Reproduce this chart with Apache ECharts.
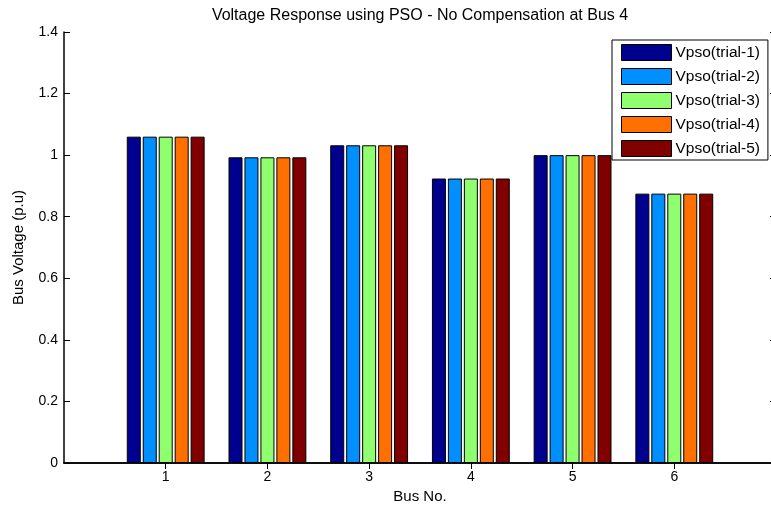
<!DOCTYPE html>
<html><head><meta charset="utf-8">
<script src="https://cdn.jsdelivr.net/npm/echarts@6/dist/echarts.min.js"></script>
<style>html,body{margin:0;padding:0;background:#fff}#c{width:771px;height:509px}</style>
</head><body><div id="c"></div>
<script>
var categories = ['', '1', '2', '3', '4', '5', '6', ''];
var trial1 = [null, 1.06, 0.993, 1.032, 0.924, 1.0, 0.875, null];
var trial2 = [null, 1.06, 0.993, 1.032, 0.924, 1.0, 0.875, null];
var trial3 = [null, 1.06, 0.993, 1.032, 0.924, 1.0, 0.875, null];
var trial4 = [null, 1.06, 0.993, 1.032, 0.924, 1.0, 0.875, null];
var trial5 = [null, 1.06, 0.993, 1.032, 0.924, 1.0, 0.875, null];
var seriesNames = ['Vpso(trial-1)', 'Vpso(trial-2)', 'Vpso(trial-3)', 'Vpso(trial-4)', 'Vpso(trial-5)'];
var colors = ['#00008f', '#008fff', '#8fff70', '#ff7000', '#800000'];
var yTicks = { min: 0, max: 1.4, interval: 0.2 };

var font = 'Liberation Sans, Arial, sans-serif';
var chart = echarts.init(document.getElementById('c'));
var tickSkip = function (idx, val) { return val !== ''; };
var allData = [trial1, trial2, trial3, trial4, trial5];
var series = allData.map(function (d, i) {
  return {
    name: seriesNames[i], type: 'bar', data: d,
    barWidth: 14, barGap: '14%',
    itemStyle: { color: colors[i], borderColor: '#000', borderWidth: 1 },
    animation: false
  };
});
chart.setOption({
  animation: false,
  color: colors,
  title: {
    text: 'Voltage Response using PSO - No Compensation at Bus 4',
    left: 415, top: 3, textAlign: 'center',
    textStyle: { fontFamily: font, fontSize: 16, fontWeight: 'normal', color: '#000' }
  },
  legend: {
    orient: 'vertical', left: 612, top: 40,
    backgroundColor: '#fff', borderColor: '#000', borderWidth: 1,
    padding: [4, 8, 3, 9], itemWidth: 50, itemHeight: 16, itemGap: 7,
    icon: 'rect',
    itemStyle: { borderColor: '#000', borderWidth: 1 },
    textStyle: { fontFamily: font, fontSize: 15.5, lineHeight: 16, color: '#000', padding: [0, 0, 0, -1] },
    data: seriesNames
  },
  grid: { left: 64, width: 712, top: 32, bottom: 46, containLabel: false, outerBoundsMode: 'none' },
  xAxis: [{
    type: 'category', data: categories, boundaryGap: false, position: 'bottom',
    name: 'Bus No.', nameLocation: 'middle', nameGap: 24,
    nameTextStyle: { fontFamily: font, fontSize: 15, color: '#000' },
    axisLine: { lineStyle: { color: '#000', width: 1.5 } },
    axisTick: { inside: true, length: 6, interval: tickSkip, lineStyle: { color: '#000' } },
    axisLabel: { interval: 0, margin: 7, fontFamily: font, fontSize: 14, color: '#000' },
    splitLine: { show: false }
  }, {
    type: 'category', data: categories, boundaryGap: false, position: 'top',
    axisLine: { lineStyle: { color: '#000', width: 1.5 } },
    axisTick: { inside: true, length: 6, interval: tickSkip, lineStyle: { color: '#000' } },
    axisLabel: { show: false }, splitLine: { show: false }
  }],
  yAxis: [{
    type: 'value', min: yTicks.min, max: yTicks.max, interval: yTicks.interval,
    name: 'Bus Voltage (p.u)', nameLocation: 'middle', nameGap: 38,
    nameTextStyle: { fontFamily: font, fontSize: 15, color: '#000' },
    axisLine: { show: true, lineStyle: { color: '#000', width: 1.5 } },
    axisTick: { show: true, inside: true, length: 6, lineStyle: { color: '#000' } },
    axisLabel: { margin: 6, fontFamily: font, fontSize: 14, color: '#000' },
    splitLine: { show: false }
  }, {
    type: 'value', min: yTicks.min, max: yTicks.max, interval: yTicks.interval, position: 'right',
    axisLine: { show: true, lineStyle: { color: '#000', width: 1.5 } },
    axisTick: { show: true, inside: true, length: 6, lineStyle: { color: '#000' } },
    axisLabel: { show: false }, splitLine: { show: false }
  }],
  series: series
});
</script></body></html>
